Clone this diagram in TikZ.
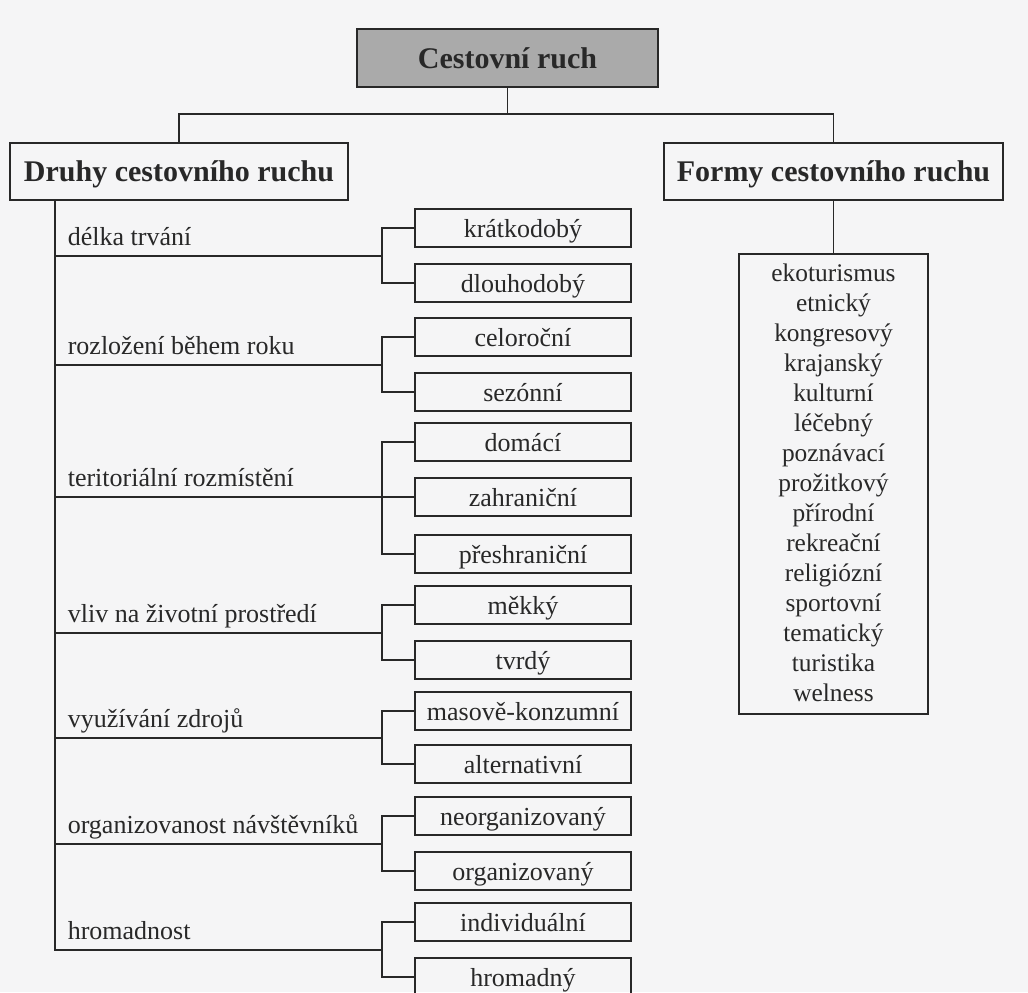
\documentclass[tikz,border=0pt]{standalone}
\usepackage{fontspec}
\setmainfont{Liberation Serif}
\definecolor{paper}{RGB}{245,245,246}
\definecolor{ink}{RGB}{40,40,40}
\definecolor{headfill}{RGB}{170,170,170}
\tikzset{
	headbox/.style={draw=ink, text=ink, inner sep=0pt, font=\fontsize{15}{18}\selectfont\bfseries, text height=10pt, text depth=0pt, minimum height=28.5pt},
	kindbox/.style={draw=ink, text=ink, inner sep=0pt, font=\fontsize{13}{15}\selectfont, text height=9pt, text depth=0pt, minimum width=108pt, minimum height=19pt},
	kindlabel/.style={text=ink, inner sep=0pt, anchor=base west, font=\fontsize{13}{15}\selectfont},
	formitem/.style={text=ink, inner sep=0pt, anchor=base, font=\fontsize{12.7}{15}\selectfont},
}
\begin{document}
\begin{tikzpicture}[x=0.5pt, y=-0.5pt, line width=0.8pt, draw=ink]
		\useasboundingbox (0,0) rectangle (1028,992);
		\fill[paper] (0,0) rectangle (1028,992);
		% heads
		\node[headbox, fill=headfill, minimum width=150.5pt, minimum height=29pt] (ruch) at (507.5,58) {Cestovní ruch};
		\node[headbox, minimum width=169pt] (druhy) at (179,171.5) {Druhy cestovního ruchu};
		\node[headbox, minimum width=169.5pt] (formy) at (833.5,171.5) {Formy cestovního ruchu};
		\coordinate (J) at (507.5,114);
		\draw (ruch.south) -- (J);
		\draw (druhy.north) |- (J) -| (formy.north);
		% forms list
		\node[draw=ink, inner sep=0pt, minimum width=94.5pt, minimum height=230pt, anchor=north] (formylist) at (833.5,253) {};
		\draw (formy.south) -- (formylist.north);
		\foreach \w [count=\i from 0] in {ekoturismus, etnický, kongresový, krajanský, kulturní, léčebný, poznávací, prožitkový, přírodní, rekreační, religiózní, sportovní, tematický, turistika, welness}
			\node[formitem] (f\i) at (833.5,281+30*\i) {\w};
		% kinds
		\foreach \y/\t [count=\i] in {228/krátkodobý, 283/dlouhodobý, 337/celoroční, 392/sezónní, 442/domácí, 497/zahraniční, 554/přeshraniční, 605/měkký, 660/tvrdý, 711/masově-konzumní, 764/alternativní, 816/neorganizovaný, 871/organizovaný, 922/individuální, 977/hromadný}
			\node[kindbox] (k\i) at (523,\y) {\t};
		\coordinate (T) at (55,0);
		\coordinate (B1) at (382,256);
		\coordinate (B2) at (382,365);
		\coordinate (B3) at (382,497);
		\coordinate (B4) at (382,633);
		\coordinate (B5) at (382,738);
		\coordinate (B6) at (382,844);
		\coordinate (B7) at (382,950);
		\node[kindlabel] (l1) at (67,245) {délka trvání};
		\node[kindlabel] (l2) at (67,354) {rozložení během roku};
		\node[kindlabel] (l3) at (67,486) {teritoriální rozmístění};
		\node[kindlabel] (l4) at (67,622) {vliv na životní prostředí};
		\node[kindlabel] (l5) at (67,727) {využívání zdrojů};
		\node[kindlabel] (l6) at (67,833) {organizovanost návštěvníků};
		\node[kindlabel] (l7) at (67,939) {hromadnost};
		\draw (druhy.south -| T) |- (B7);
		\foreach \b in {1,...,6}
			\draw (B\b -| T) -- (B\b);
		\draw (k1.west) -| (B1) |- (k2.west);
		\draw (k3.west) -| (B2) |- (k4.west);
		\draw (k5.west) -| (B3) |- (k7.west);
		\draw (B3) -- (k6.west);
		\draw (k8.west) -| (B4) |- (k9.west);
		\draw (k10.west) -| (B5) |- (k11.west);
		\draw (k12.west) -| (B6) |- (k13.west);
		\draw (k14.west) -| (B7) |- (k15.west);
		\end{tikzpicture}
\end{document}
